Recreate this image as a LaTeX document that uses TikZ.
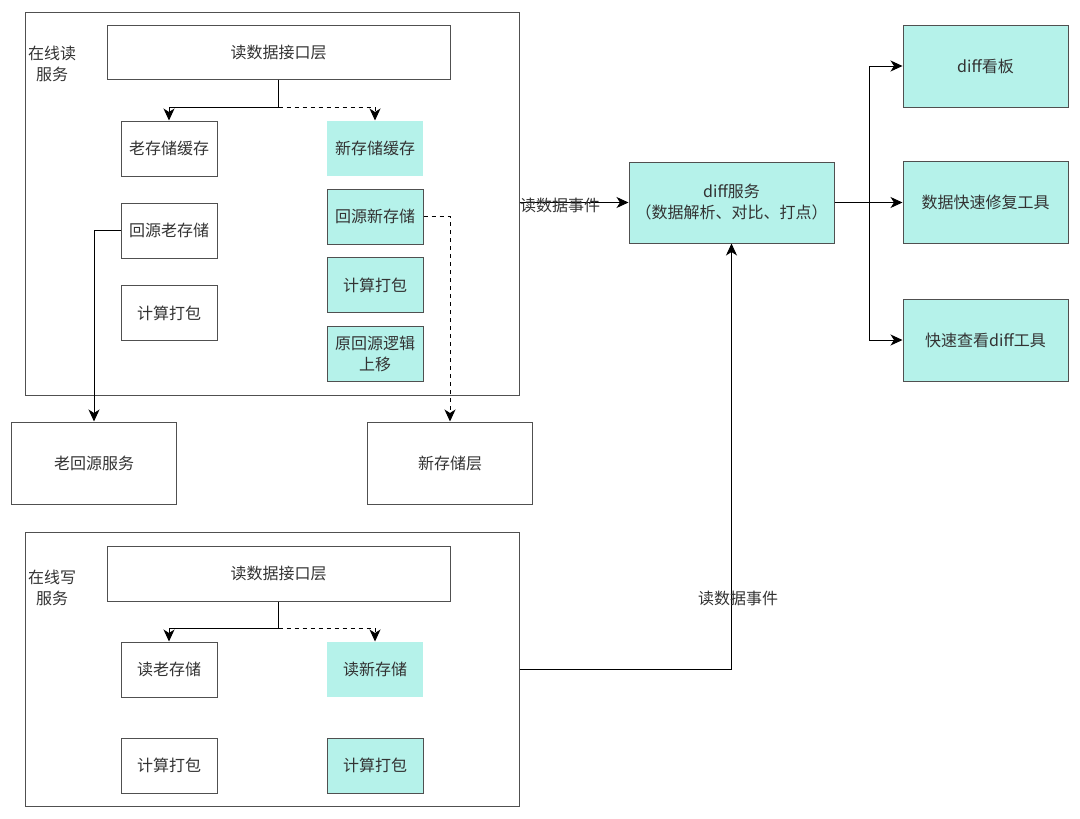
\documentclass[tikz,border=0pt]{standalone}
\usepackage{fontspec}
\setmainfont{Noto Sans CJK SC}
\usepackage{xcolor}
\usetikzlibrary{arrows.meta, positioning}
\definecolor{diffteal}{RGB}{181,242,234}
\definecolor{linegray}{RGB}{80,80,80}
\definecolor{txtgray}{RGB}{51,51,51}

\begin{document}
\begin{tikzpicture}[
    x=1pt, y=-1pt,
    every node/.style={font=\fontsize{16}{21}\selectfont, text=txtgray},
    frame/.style={rectangle, draw=linegray, line width=1pt, inner sep=0pt, align=center},
    pbox/.style={frame, minimum width=96pt, minimum height=55pt},
    nbox/.style={pbox, fill=diffteal},
    lbox/.style={frame, minimum width=165pt, minimum height=82pt},
    arr/.style={-{Stealth[length=12pt, width=11pt, inset=3.5pt]}, line width=1pt, draw=black},
    darr/.style={arr, dash pattern=on 4pt off 4pt}
]
\useasboundingbox (0,0) rectangle (1080,819);

% online read service
\node[frame, minimum width=494pt, minimum height=383pt] (readsvc) at (272,203.5) {};
\node[align=center] (readlbl) at (52,64) {在线读\\服务};
\node[frame, minimum width=343pt, minimum height=54pt] (rif) at (278.5,52) {读数据接口层};
\node[pbox] (oldcache) at (169,148.5) {老存储缓存};
\node[nbox, draw=none] (newcache) at (375,148.5) {新存储缓存};
\node[pbox] (oldsrc)   at (169,230.5) {回源老存储};
\node[nbox] (newsrc)   at (375,216.5) {回源新存储};
\node[pbox] (oldpack)  at (169,313)   {计算打包};
\node[nbox] (newpack)  at (375,285)   {计算打包};
\node[nbox] (moveup)   at (375,353.5) {原回源逻辑\\上移};
\coordinate (rsplit) at (278.5,107);
\draw[arr] (rif) -- (rsplit) -| (oldcache);
\draw[darr] (rsplit) -| (newcache);

% storage layers
\node[lbox] (oldsvc)   at (94,463)  {老回源服务};
\node[lbox] (newstore) at (450,463) {新存储层};
\draw[arr] (oldsrc.west) -| (oldsvc.north);
\draw[darr] (newsrc.east) -| (newstore.north);

% online write service
\node[frame, minimum width=494pt, minimum height=274pt] (writesvc) at (272,669) {};
\node[align=center] (writelbl) at (52,588) {在线写\\服务};
\node[frame, minimum width=343pt, minimum height=55pt] (wif) at (278.5,573.5) {读数据接口层};
\node[pbox] (rdold)    at (169,669.5) {读老存储};
\node[nbox, draw=none] (rdnew) at (375,669.5) {读新存储};
\node[pbox] (wpackold) at (169,765.5) {计算打包};
\node[nbox] (wpacknew) at (375,765.5) {计算打包};
\coordinate (wsplit) at (278.5,628);
\draw[arr] (wif) -- (wsplit) -| (rdold);
\draw[darr] (wsplit) -| (rdnew);

% diff service and tools
\node[frame, fill=diffteal, minimum width=205pt, minimum height=81pt] (diff) at (731.5,202.5)
    {diff服务\\（数据解析、对比、打点）};
\node[lbox, fill=diffteal] (board) at (985.5,66)    {diff看板};
\node[lbox, fill=diffteal] (fix)   at (985.5,202.5) {数据快速修复工具};
\node[lbox, fill=diffteal] (view)  at (985.5,340)   {快速查看diff工具};

\draw[arr] (readsvc.east |- diff.west) -- (diff.west);
\node (evread) at (560,205) {读数据事件};
\draw[arr] (writesvc.east) -| (diff.south);
\node (evwrite) at (738,598) {读数据事件};

\coordinate (dsplit) at (869,202.5);
\draw[arr] (diff.east) -- (dsplit) |- (board.west);
\draw[arr] (dsplit) -- (fix.west);
\draw[arr] (dsplit) |- (view.west);
\end{tikzpicture}
\end{document}
